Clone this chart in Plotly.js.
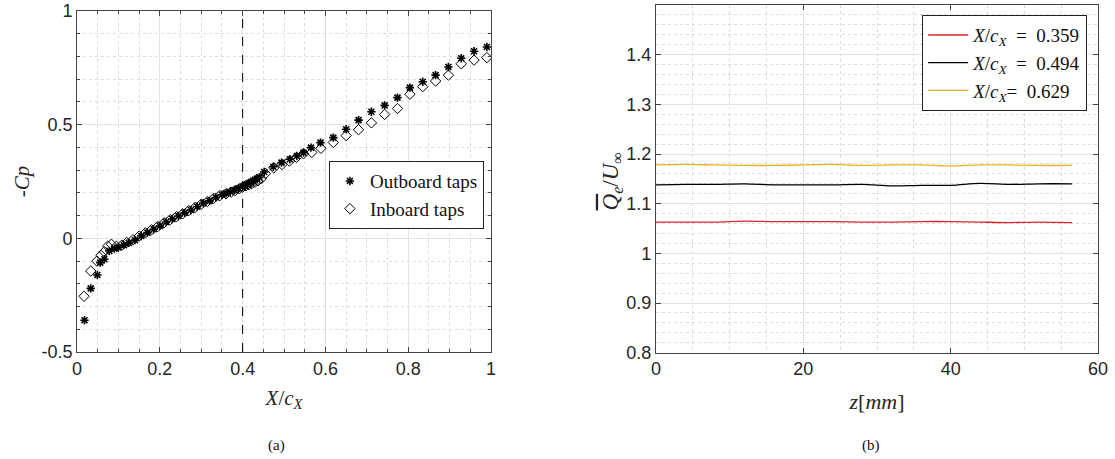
<!DOCTYPE html>
<html>
<head>
<meta charset="utf-8">
<script src="https://cdn.plot.ly/plotly-3.0.1.min.js"></script>
<style>html,body{margin:0;padding:0;background:#fff;}#chart{width:1115px;height:459px;}</style>
</head>
<body>
<div id="chart"></div>
<script>
// ---- Panel (a): pressure coefficient ----
const outboardX = [0.018,0.033,0.049,0.056,0.066,0.078,0.090,0.100,0.113,0.125,0.140,0.155,0.170,0.185,0.200,0.215,0.230,0.245,0.260,0.275,0.290,0.305,0.320,0.335,0.350,0.360,0.370,0.380,0.390,0.400,0.405,0.410,0.415,0.420,0.425,0.430,0.435,0.440,0.452,0.474,0.494,0.514,0.531,0.547,0.565,0.588,0.619,0.650,0.680,0.711,0.743,0.774,0.804,0.835,0.866,0.897,0.928,0.959,0.990];
const outboardCp = [-0.360,-0.220,-0.161,-0.107,-0.092,-0.055,-0.045,-0.040,-0.030,-0.020,-0.008,0.010,0.025,0.040,0.055,0.072,0.085,0.098,0.112,0.125,0.140,0.155,0.165,0.180,0.192,0.198,0.205,0.212,0.220,0.228,0.232,0.238,0.243,0.248,0.253,0.258,0.263,0.268,0.292,0.315,0.333,0.348,0.362,0.377,0.399,0.421,0.443,0.480,0.520,0.557,0.585,0.619,0.663,0.689,0.718,0.754,0.792,0.823,0.842];
const inboardX = [0.017,0.033,0.048,0.058,0.066,0.074,0.083,0.095,0.108,0.120,0.135,0.150,0.165,0.180,0.195,0.210,0.225,0.240,0.255,0.270,0.285,0.300,0.315,0.330,0.345,0.360,0.372,0.382,0.392,0.400,0.408,0.415,0.422,0.430,0.437,0.445,0.455,0.475,0.495,0.513,0.530,0.547,0.567,0.589,0.619,0.650,0.680,0.711,0.743,0.774,0.804,0.835,0.866,0.897,0.928,0.959,0.990];
const inboardCp = [-0.255,-0.144,-0.100,-0.075,-0.059,-0.034,-0.026,-0.035,-0.030,-0.018,-0.006,0.010,0.024,0.038,0.052,0.068,0.082,0.095,0.108,0.122,0.136,0.150,0.162,0.176,0.188,0.196,0.203,0.210,0.218,0.225,0.231,0.236,0.241,0.247,0.253,0.262,0.285,0.310,0.325,0.340,0.356,0.372,0.378,0.396,0.422,0.452,0.478,0.508,0.545,0.571,0.634,0.667,0.692,0.718,0.768,0.784,0.795];
const refLineX = 0.4;
const cpTickVals = [-0.5, 0, 0.5, 1];
const cpTickText = ['-0.5', '0', '0.5', '1'];
const xcTickVals = [0, 0.2, 0.4, 0.6, 0.8, 1];
const xcTickText = ['0', '0.2', '0.4', '0.6', '0.8', '1'];

// ---- Panel (b): velocity profiles ----
const zMM = [0,4,8,12,16,20,24,28,32,36,40,44,48,52,56.5];
const q0359 = [1.063,1.063,1.063,1.065,1.064,1.064,1.064,1.063,1.063,1.064,1.064,1.063,1.062,1.063,1.062];
const q0494 = [1.138,1.139,1.139,1.140,1.138,1.138,1.138,1.139,1.136,1.137,1.137,1.141,1.139,1.140,1.140];
const q0629 = [1.178,1.179,1.178,1.177,1.177,1.178,1.179,1.177,1.178,1.178,1.176,1.178,1.178,1.177,1.177];
const seriesNames = ['<i>X</i>/<i>c</i><sub><i>X</i></sub>\u00a0\u00a0=\u00a0\u00a00.359','<i>X</i>/<i>c</i><sub><i>X</i></sub>\u00a0\u00a0=\u00a0\u00a00.494','<i>X</i>/<i>c</i><sub><i>X</i></sub>=\u00a0\u00a00.629'];

const serif = 'Liberation Serif, DejaVu Serif, serif';
const sans = 'Liberation Sans, Arial, sans-serif';
const axisCommon = {
  showline: true, linecolor: '#444', linewidth: 1, mirror: 'ticks',
  ticks: 'inside', ticklen: 5, tickcolor: '#444',
  showgrid: true, gridcolor: '#e3e3e3', gridwidth: 1,
  zeroline: false, automargin: false,
  tickfont: {family: sans, size: 18, color: '#262626'}
};
function ax(extra){ return Object.assign({}, axisCommon, extra); }

const traces = [
  {x: outboardX, y: outboardCp, mode: 'markers', type: 'scatter', name: 'Outboard taps', xaxis: 'x', yaxis: 'y', legend: 'legend',
   marker: {symbol: 'asterisk-open', size: 7, color: '#000', line: {color: '#000', width: 1.6}}},
  {x: inboardX, y: inboardCp, mode: 'markers', type: 'scatter', name: 'Inboard taps', xaxis: 'x', yaxis: 'y', legend: 'legend',
   marker: {symbol: 'diamond-open', size: 8, color: '#000', line: {color: '#000', width: 1}}},
  {x: zMM, y: q0359, mode: 'lines', type: 'scatter', name: seriesNames[0], xaxis: 'x2', yaxis: 'y2', legend: 'legend2',
   line: {color: '#d7262b', width: 1.3, shape: 'spline'}},
  {x: zMM, y: q0494, mode: 'lines', type: 'scatter', name: seriesNames[1], xaxis: 'x2', yaxis: 'y2', legend: 'legend2',
   line: {color: '#000', width: 1.3, shape: 'spline'}},
  {x: zMM, y: q0629, mode: 'lines', type: 'scatter', name: seriesNames[2], xaxis: 'x2', yaxis: 'y2', legend: 'legend2',
   line: {color: '#edb120', width: 1.3, shape: 'spline'}}
];

const layout = {
  width: 1115, height: 459,
  margin: {l: 0, r: 0, t: 0, b: 0},
  paper_bgcolor: '#fff', plot_bgcolor: '#fff',
  showlegend: true,
  xaxis: ax({domain: [0.0691, 0.4404], range: [0, 1], tickvals: xcTickVals, ticktext: xcTickText, anchor: 'y',
    minor: {dtick: 0.05, showgrid: true, gridcolor: '#dcdcdc', griddash: 'dot', ticks: 'inside', ticklen: 3, tickcolor: '#444'},
    title: {text: '<i>X</i>/<i>c</i><sub><i>X</i></sub>', font: {family: serif, size: 21, color: '#262626'}, standoff: 12}}),
  yaxis: ax({domain: [0.2331, 0.976], range: [-0.5, 1], tickvals: cpTickVals, ticktext: cpTickText, anchor: 'x',
    minor: {dtick: 0.1, showgrid: true, gridcolor: '#dcdcdc', griddash: 'dot', ticks: 'inside', ticklen: 3, tickcolor: '#444'},
    title: {text: '-<i>Cp</i>', font: {family: serif, size: 21, color: '#262626'}, standoff: 6}}),
  xaxis2: ax({domain: [0.5883, 0.9848], range: [0, 60], dtick: 20, anchor: 'y2',
    minor: {dtick: 5, showgrid: true, gridcolor: '#dcdcdc', griddash: 'dot', ticks: '', ticklen: 0},
    title: {text: '<i>z</i>[<i>mm</i>]', font: {family: serif, size: 22, color: '#262626'}, standoff: 15}}),
  yaxis2: ax({domain: [0.2316, 0.9891], range: [0.8, 1.5], dtick: 0.1, anchor: 'x2',
    minor: {dtick: 0.02, showgrid: true, gridcolor: '#dcdcdc', griddash: 'dot', ticks: '', ticklen: 0}}),
  legend: {x: 0.434, y: 0.649, xanchor: 'right', yanchor: 'top', bgcolor: '#fff', bordercolor: '#222', borderwidth: 1,
    font: {family: serif, size: 19, color: '#111'}, tracegroupgap: 0, itemwidth: 30},
  legend2: {x: 0.975, y: 0.967, xanchor: 'right', yanchor: 'top', bgcolor: '#fff', bordercolor: '#222', borderwidth: 1,
    font: {family: serif, size: 19, color: '#111'}, tracegroupgap: 0, itemwidth: 40},
  shapes: [{type: 'line', xref: 'x', yref: 'y domain', x0: refLineX, x1: refLineX, y0: 0, y1: 1,
    line: {color: '#000', width: 1, dash: 'dash'}}],
  annotations: [
    {text: '<span style="text-decoration:overline"><i>Q</i></span><sub><i>e</i></sub>/<i>U</i><sub>∞</sub>', xref: 'paper', yref: 'paper',
     x: 0.549, y: 0.605, xanchor: 'center', yanchor: 'middle', textangle: -90, showarrow: false, font: {family: serif, size: 23, color: '#262626'}},
    {text: '(a)', xref: 'paper', yref: 'paper', x: 0.2386, y: 0.03, yanchor: 'middle', showarrow: false, font: {family: serif, size: 15, color: '#111'}},
    {text: '(b)', xref: 'paper', yref: 'paper', x: 0.791, y: 0.03, yanchor: 'middle', showarrow: false, font: {family: serif, size: 15, color: '#111'}}
  ]
};

Plotly.newPlot('chart', traces, layout, {displayModeBar: false, staticPlot: true});
</script>
</body>
</html>
